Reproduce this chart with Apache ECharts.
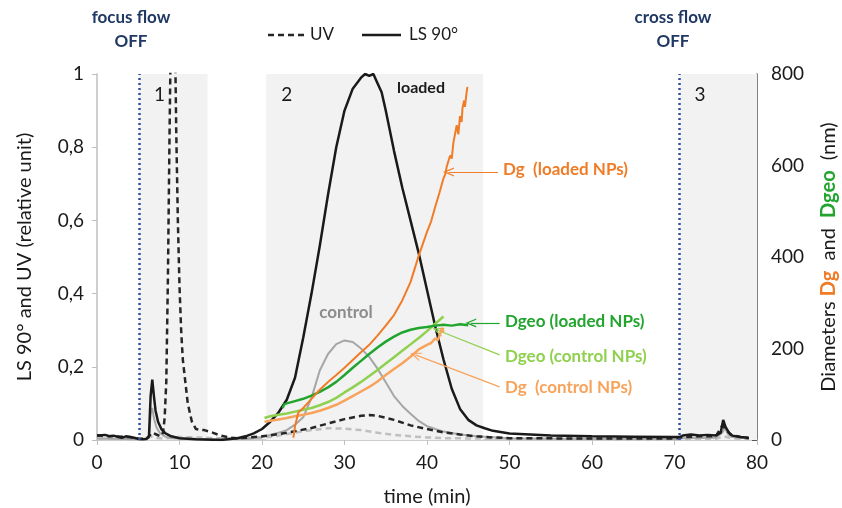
<!DOCTYPE html>
<html>
<head>
<meta charset="utf-8">
<script src="https://cdn.jsdelivr.net/npm/echarts@6/dist/echarts.min.js"></script>
<style>
  html, body { margin: 0; padding: 0; background: #fff; }
  #chart { width: 842px; height: 508px; }
</style>
</head>
<body>
<div id="chart"></div>
<script>
// time axis ticks
var timeTicks = [0, 80, 10];

// LS 90° and UV (relative unit) — [time, value]
var lsLoaded = [[0,0.012],[1,0.014],[1.5,0.01],[2,0.012],[2.5,0.009],[3,0.006],[3.5,0.01],[4,0.008],[4.5,0.006],[5,0.003],[5.5,0.002],[6,0.003],[6.3,0.01],[6.5,0.12],[6.7,0.165],[6.9,0.12],[7.1,0.08],[7.4,0.05],[7.8,0.03],[8.3,0.018],[9,0.01],[10,0.005],[12,0.002],[15,0.0],[17,0.005],[18,0.01],[19,0.018],[20,0.03],[21,0.05],[22,0.075],[23,0.11],[24,0.17],[25,0.28],[26,0.40],[27,0.53],[28,0.67],[29,0.80],[30,0.9],[31,0.96],[32,0.99],[32.5,1.0],[33,0.995],[33.5,1.0],[34,0.975],[34.5,0.95],[35,0.9],[36,0.79],[37,0.69],[38,0.6],[39,0.51],[40,0.41],[41,0.31],[42,0.22],[43,0.14],[44,0.085],[45,0.055],[46,0.04],[47,0.032],[48,0.025],[50,0.018],[55,0.012],[60,0.01],[65,0.009],[70,0.008],[70.6,0.008],[71,0.012],[72,0.015],[73,0.012],[74,0.014],[75,0.012],[75.6,0.02],[75.9,0.055],[76.2,0.035],[76.6,0.02],[77,0.012],[78,0.008],[79,0.006]];
var uvLoaded = [[0,0.012],[2,0.01],[4,0.008],[5,0.004],[6,0.003],[6.7,0.02],[7.2,0.015],[7.7,0.01],[8.0,0.02],[8.2,0.06],[8.4,0.16],[8.6,0.45],[8.8,0.85],[9.0,1.2],[9.2,1.35],[9.4,1.2],[9.6,0.85],[9.8,0.6],[10.0,0.42],[10.2,0.3],[10.4,0.22],[10.7,0.16],[11.0,0.1],[11.5,0.05],[12,0.03],[12.5,0.028],[13,0.027],[14,0.02],[15,0.012],[16,0.007],[17,0.005],[18,0.006],[20,0.01],[22,0.016],[24,0.024],[26,0.033],[28,0.045],[30,0.057],[32,0.066],[33,0.068],[34,0.066],[36,0.055],[38,0.04],[40,0.03],[42,0.021],[44,0.015],[46,0.01],[48,0.007],[50,0.005],[60,0.004],[70,0.004],[71,0.008],[73,0.01],[75,0.01],[75.8,0.04],[76.2,0.03],[76.8,0.015],[78,0.008],[79,0.005]];
var lsControl = [[0,0.005],[5,0.002],[6.3,0.005],[6.5,0.07],[6.7,0.088],[6.9,0.06],[7.2,0.035],[7.6,0.02],[8.2,0.01],[9,0.005],[12,0.002],[18,0.003],[20,0.008],[21,0.014],[22,0.02],[23,0.027],[24,0.042],[25,0.062],[26,0.115],[27,0.19],[28,0.235],[29,0.262],[30,0.272],[31,0.268],[32,0.25],[33,0.227],[34,0.195],[35,0.158],[36,0.12],[37,0.093],[38,0.072],[39,0.052],[40,0.038],[41,0.03],[42,0.023],[44,0.015],[46,0.01],[50,0.005],[60,0.003],[70,0.003],[71,0.005],[75,0.006],[75.8,0.02],[76.1,0.033],[76.5,0.015],[77,0.008],[79,0.004]];
var uvControl = [[0,0.003],[5,0.002],[6.5,0.01],[7,0.006],[8,0.004],[9,0.006],[10,0.008],[12,0.007],[15,0.005],[18,0.004],[20,0.006],[22,0.012],[24,0.02],[26,0.027],[28,0.032],[30,0.031],[32,0.027],[34,0.02],[36,0.014],[38,0.01],[40,0.007],[42,0.005],[46,0.004],[50,0.003],[70,0.002],[75,0.003],[76,0.01],[77,0.004],[79,0.003]];

// Diameters (nm) — [time, value]
var dgLoaded = [[23.8,5],[24.0,30],[24.2,45],[24.4,60],[25,70],[26,90],[27,110],[28,127],[29,142],[30,158],[31,175],[32,192],[33,208],[34,228],[35,250],[36,273],[37,305],[38,345],[39,403],[40,455],[40.5,478],[41,510],[41.5,540],[42,572],[42.2,580],[42.4,598],[42.8,622],[43.0,615],[43.2,650],[43.6,688],[43.8,668],[44.0,708],[44.2,695],[44.3,725],[44.5,742],[44.6,728],[44.8,760],[44.9,772]];
var dgeoLoaded = [[22.5,70],[22.7,78],[23,80],[24,85],[25,90],[26,97],[27,105],[28,115],[29,127],[30,142],[31,158],[32,173],[33,188],[34,202],[35,215],[36,226],[37,235],[38,241],[39,245],[40,247],[41,250],[42,252],[43,250],[44,253],[45,251]];
var dgeoControl = [[20.3,48],[21,52],[22,55],[23,58],[24,62],[25,66],[26,70],[27,76],[28,83],[29,92],[30,104],[31,115],[32,127],[33,140],[34,153],[35,167],[36,181],[37,195],[38,209],[39,223],[40,238],[41,254],[42,270]];
var dgControl = [[20.3,40],[21,42],[22,45],[23,48],[24,52],[25,55],[26,59],[27,64],[28,70],[29,77],[30,86],[31,96],[32,106],[33,116],[34,128],[35,142],[36,155],[37,168],[38,182],[39,198],[40,208],[40.5,212],[41,222],[41.3,218],[41.6,232],[41.8,245],[42,236]];

// shaded regions and flow-off markers (time)
var regions = [['1', 5.1, 13.4], ['2', 20.5, 46.8], ['3', 70.6, 80]];
var flowOff = [5.1, 70.6];

var FONT = 'Lato, "Open Sans", sans-serif';
var chevron = 'path://M0,10 L5,0 L10,10 L8.6,10 L5,3 L1.4,10 Z';

function arrow(from, to) {
  return [{ coord: from, symbol: 'none' }, { coord: to, symbol: chevron }];
}

function label(x, y, text, color, size, align) {
  return {
    type: 'text', x: x, y: y, z: 10,
    style: { text: text, fill: color, font: 'bold ' + size + 'px ' + FONT, align: align || 'left', verticalAlign: 'middle' }
  };
}

var chart = echarts.init(document.getElementById('chart'), null, { renderer: 'canvas' });

var option = {
  animation: false,
  textStyle: { fontFamily: FONT },
  grid: { left: 97, right: 85, top: 74, bottom: 68, outerBoundsMode: 'none' },
  xAxis: {
    type: 'value', min: timeTicks[0], max: timeTicks[1], interval: timeTicks[2],
    name: 'time (min)', nameLocation: 'middle', nameGap: 47,
    nameTextStyle: { fontSize: 20, color: '#1a1a1a', fontFamily: FONT },
    axisLine: { show: true, lineStyle: { color: '#bfbfbf', width: 1.5 } },
    axisTick: { show: true, length: 5, lineStyle: { color: '#bfbfbf' } },
    axisLabel: { fontSize: 19, color: '#1a1a1a', margin: 13, fontFamily: FONT },
    splitLine: { show: false }
  },
  yAxis: [{
    type: 'value', min: 0, max: 1, interval: 0.2,
    name: 'LS 90° and UV (relative unit)', nameLocation: 'middle', nameGap: 62, nameRotate: 90,
    nameTextStyle: { fontSize: 20, color: '#1a1a1a', fontFamily: FONT },
    axisLine: { show: true, lineStyle: { color: '#bfbfbf', width: 1.5 } },
    axisTick: { show: true, length: 5, lineStyle: { color: '#bfbfbf' } },
    axisLabel: {
      fontSize: 19, color: '#1a1a1a', margin: 13, fontFamily: FONT,
      formatter: function (v) { return String(Math.round(v * 10) / 10).replace('.', ','); }
    },
    splitLine: { show: false }
  }, {
    type: 'value', min: 0, max: 800, interval: 200, position: 'right',
    name: 'Diameters {o|Dg}  and  {g|Dgeo}  (nm)', nameLocation: 'middle', nameGap: 62, nameRotate: 90,
    nameTextStyle: {
      fontSize: 20, color: '#1a1a1a', fontFamily: FONT,
      rich: {
        o: { fontSize: 20, color: '#f07c28', fontWeight: 'bold', fontFamily: FONT },
        g: { fontSize: 20, color: '#22a52f', fontWeight: 'bold', fontFamily: FONT }
      }
    },
    axisLine: { show: true, lineStyle: { color: '#595959', width: 1.5 } },
    axisTick: { show: true, inside: true, length: 5, lineStyle: { color: '#595959' } },
    axisLabel: { fontSize: 19, color: '#1a1a1a', margin: 14, fontFamily: FONT },
    splitLine: { show: false }
  }],
  series: [
    {
      name: 'regions', type: 'line', data: [], z: 1,
      markArea: {
        silent: true,
        itemStyle: { color: '#f2f2f2' },
        label: { show: true, position: 'insideTopLeft', offset: [10, 6], fontSize: 19, color: '#1a1a1a', fontFamily: FONT },
        data: regions.map(function (r) { return [{ name: r[0], xAxis: r[1] }, { xAxis: r[2] }]; })
      },
      markLine: {
        silent: true, symbol: 'none', label: { show: false },
        lineStyle: { color: '#2f4f9f', type: [2, 3], width: 2.5 },
        data: flowOff.map(function (t) { return { xAxis: t }; })
      }
    },
    {
      name: 'UV control', type: 'line', data: uvControl, showSymbol: false, z: 3,
      lineStyle: { color: '#bfbfbf', width: 2.5, type: [6, 4] }
    },
    {
      name: 'LS control', type: 'line', data: lsControl, showSymbol: false, z: 3,
      lineStyle: { color: '#a6a6a6', width: 2 }
    },
    {
      name: 'UV', type: 'line', data: uvLoaded, showSymbol: false, z: 4,
      lineStyle: { color: '#262626', width: 2.5, type: [6, 4] }
    },
    {
      name: 'LS 90°', type: 'line', data: lsLoaded, showSymbol: false, z: 4,
      lineStyle: { color: '#1a1a1a', width: 2.5 }
    },
    {
      name: 'Dg control', type: 'line', yAxisIndex: 1, data: dgControl, showSymbol: false, z: 5,
      lineStyle: { color: '#f7a35c', width: 2.5 },
      markLine: {
        silent: true, symbolSize: [9, 11], label: { show: false },
        lineStyle: { color: '#f7a35c', width: 1.2, type: 'solid' },
        data: [arrow([48.8, 116], [38.6, 186])]
      }
    },
    {
      name: 'Dgeo control', type: 'line', yAxisIndex: 1, data: dgeoControl, showSymbol: false, z: 5,
      lineStyle: { color: '#8fd14f', width: 2.5 },
      markLine: {
        silent: true, symbolSize: [9, 11], label: { show: false },
        lineStyle: { color: '#8fd14f', width: 1.2, type: 'solid' },
        data: [arrow([48.8, 186], [41.3, 240])]
      }
    },
    {
      name: 'Dgeo loaded', type: 'line', yAxisIndex: 1, data: dgeoLoaded, showSymbol: false, z: 6,
      lineStyle: { color: '#22a52f', width: 2.5 },
      markLine: {
        silent: true, symbolSize: [9, 11], label: { show: false },
        lineStyle: { color: '#22a52f', width: 1.2, type: 'solid' },
        data: [arrow([48.8, 256], [45.3, 256])]
      }
    },
    {
      name: 'Dg loaded', type: 'line', yAxisIndex: 1, data: dgLoaded, showSymbol: false, z: 6,
      lineStyle: { color: '#f07c28', width: 2 },
      markLine: {
        silent: true, symbolSize: [9, 11], label: { show: false },
        lineStyle: { color: '#f07c28', width: 1.2, type: 'solid' },
        data: [arrow([48.6, 586], [42.6, 586])]
      }
    }
  ],
  graphic: [
    // legend
    { type: 'line', shape: { x1: 268, y1: 35, x2: 304, y2: 35 }, style: { stroke: '#262626', lineWidth: 2.5, lineDash: [6, 4] } },
    { type: 'text', x: 310, y: 35, style: { text: 'UV', fill: '#1a1a1a', font: '17px ' + FONT, verticalAlign: 'middle' } },
    { type: 'line', shape: { x1: 362, y1: 35, x2: 401, y2: 35 }, style: { stroke: '#1a1a1a', lineWidth: 2.5 } },
    { type: 'text', x: 409, y: 35, style: { text: 'LS 90°', fill: '#1a1a1a', font: '17px ' + FONT, verticalAlign: 'middle' } },
    // flow notes
    label(131, 18, 'focus flow', '#1f3864', 17, 'center'),
    label(131, 42, 'OFF', '#1f3864', 17, 'center'),
    label(673, 18, 'cross flow', '#1f3864', 17, 'center'),
    label(673, 42, 'OFF', '#1f3864', 17, 'center'),
    // curve notes
    label(346, 313, 'control', '#8c8c8c', 17, 'center'),
    label(421, 88, 'loaded', '#1a1a1a', 16, 'center'),
    label(503, 170, 'Dg  (loaded NPs)', '#f07c28', 17),
    label(505, 322, 'Dgeo (loaded NPs)', '#22a52f', 17),
    label(505, 357, 'Dgeo (control NPs)', '#8fd14f', 17),
    label(505, 388, 'Dg  (control NPs)', '#f7a35c', 17)
  ]
};

chart.setOption(option);
window.addEventListener('resize', function () { chart.resize(); });
</script>
</body>
</html>
